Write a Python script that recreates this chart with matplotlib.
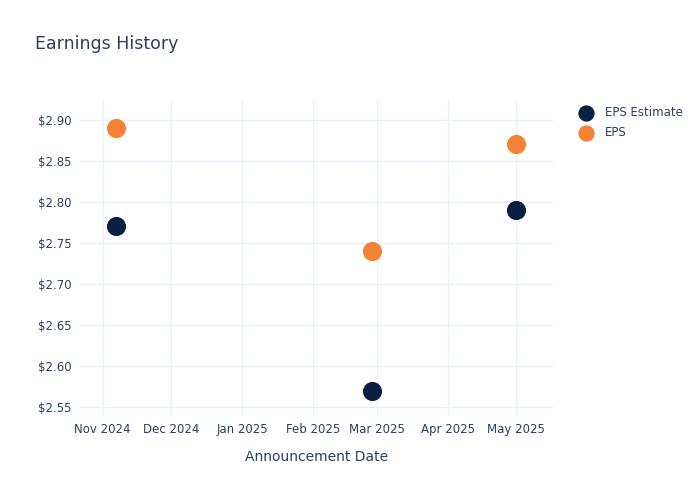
import matplotlib
matplotlib.use("Agg")
import matplotlib.pyplot as plt
import matplotlib.dates as mdates
from datetime import datetime

dates = [datetime(2024, 11, 7), datetime(2025, 2, 27), datetime(2025, 5, 1)]
eps_estimate = [2.77, 2.57, 2.79]
eps_actual = [2.89, 2.74, 2.87]

navy = "#0b1f42"
orange = "#f58235"
text_col = "#2a3f5f"
grid_col = "#ebf0f8"

plt.rcParams["font.family"] = ["DejaVu Sans"]

fig = plt.figure(figsize=(7, 5), dpi=100)
ax = fig.add_axes([0.114, 0.17, 0.676, 0.63])

ax.scatter(dates, eps_estimate, s=190, color=navy, label="EPS Estimate", zorder=3, linewidths=0)
ax.scatter(dates, eps_actual, s=190, color=orange, label="EPS", zorder=3, linewidths=0)

ax.set_ylim(2.5405, 2.924)
ax.set_xlim(datetime(2024, 10, 22), datetime(2025, 5, 17))
ax.set_yticks([2.55, 2.60, 2.65, 2.70, 2.75, 2.80, 2.85, 2.90])
ax.yaxis.set_major_formatter(matplotlib.ticker.FuncFormatter(lambda v, p: "$%.2f" % v))
ax.xaxis.set_major_locator(mdates.MonthLocator())
ax.xaxis.set_major_formatter(mdates.DateFormatter("%b %Y"))

ax.grid(True, color=grid_col, linewidth=1)
ax.set_axisbelow(True)
for s in ax.spines.values():
    s.set_visible(False)
ax.tick_params(length=0, labelsize=8.5, colors=text_col, pad=6)

ax.set_xlabel("Announcement Date", fontsize=10, color=text_col, labelpad=10)
fig.text(0.05, 0.912, "Earnings History", fontsize=12.5, color=text_col, va="center")

leg = ax.legend(loc="upper left", bbox_to_anchor=(1.035, 0.995), frameon=False,
                fontsize=8.5, handletextpad=0.6, labelspacing=0.55, borderaxespad=0,
                markerscale=0.85)
for t in leg.get_texts():
    t.set_color(text_col)

fig.savefig("out.png", dpi=100, facecolor="white")
